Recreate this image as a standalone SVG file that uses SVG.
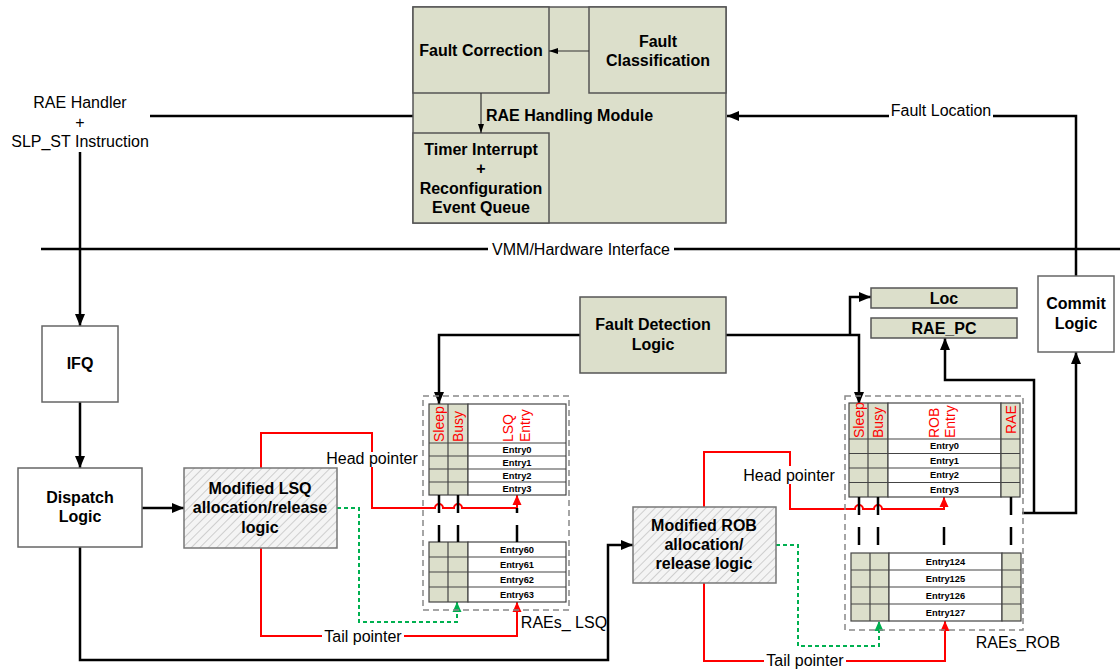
<svg xmlns="http://www.w3.org/2000/svg" width="1120" height="671" viewBox="0 0 1120 671">
<style>
text{font-family:"Liberation Sans",Arial,sans-serif;fill:#000}
.b{font-weight:bold;font-size:16px;text-anchor:middle;dominant-baseline:central}
.r{font-size:16px;text-anchor:middle;dominant-baseline:central}
.e{font-weight:bold;font-size:9.3px;text-anchor:middle;dominant-baseline:central}
.h{font-size:14px;fill:#ff0000;dominant-baseline:central}
.bx{fill:#dcdfcb;stroke:#555;stroke-width:1.5}
.wb{fill:#fff;stroke:#666;stroke-width:1.5}
.hb{fill:url(#hatch);stroke:#777;stroke-width:1.5}
.tb{fill:#fff;stroke:#444;stroke-width:1.2}
.cl{fill:#dcdfcb;stroke:#444;stroke-width:1.2}
.k{fill:none;stroke:#000;stroke-width:2.5}
.kt{fill:none;stroke:#333;stroke-width:1.2}
.rd{fill:none;stroke:#ff0000;stroke-width:2}
.gn{fill:none;stroke:#00b050;stroke-width:2;stroke-dasharray:4,3}
.dash{fill:none;stroke:#888;stroke-width:1.5;stroke-dasharray:6,4}
.mk{stroke:#000;stroke-width:2.5}
</style>
<defs>
<pattern id="hatch" patternUnits="userSpaceOnUse" width="6" height="6" patternTransform="rotate(45)">
<rect width="6" height="6" fill="#f4f4f4"/>
<line x1="0" y1="0" x2="0" y2="6" stroke="#b5b5b5" stroke-width="1.2"/>
</pattern>
<marker id="ak" markerUnits="userSpaceOnUse" markerWidth="14" markerHeight="12" refX="12" refY="6" orient="auto"><path d="M0,1 L12,6 L0,11 Z" fill="#000"/></marker>
<marker id="as" markerUnits="userSpaceOnUse" markerWidth="10" markerHeight="8" refX="9" refY="4" orient="auto"><path d="M0,1 L9,4 L0,7 Z" fill="#000"/></marker>
<marker id="ar" markerUnits="userSpaceOnUse" markerWidth="12" markerHeight="10" refX="10" refY="5" orient="auto"><path d="M0,0.5 L10,5 L0,9.5 Z" fill="#ff0000"/></marker>
<marker id="ag" markerUnits="userSpaceOnUse" markerWidth="12" markerHeight="10" refX="10" refY="5" orient="auto"><path d="M0,0.5 L10,5 L0,9.5 Z" fill="#00b050"/></marker>
</defs>
<rect width="1120" height="671" fill="#fff"/>

<g id="connectors">
<line x1="41" y1="249" x2="1120" y2="249" class="k" stroke-width="2"/>
<line x1="150" y1="116" x2="413" y2="116" class="k"/>
<path d="M80,152 V326" class="k" marker-end="url(#ak)"/>
<path d="M80,402 V468" class="k" marker-end="url(#ak)"/>
<path d="M142,508 H184" class="k" marker-end="url(#ak)"/>
<path d="M80,547 V660 H608 V545 H633" class="k" marker-end="url(#ak)"/>
<path d="M1076,276 V116 H727" class="k" marker-end="url(#ak)"/>
<path d="M580,335 H439 V404" class="k" marker-end="url(#ak)"/>
<path d="M726,335 H859 V404" class="k" marker-end="url(#ak)"/>
<path d="M850,335 V297 H871" class="k" marker-end="url(#ak)"/>
<path d="M1022,513 H1076 V352" class="k" marker-end="url(#ak)"/>
<path d="M1034,513 V380 H945 V338" class="k" marker-end="url(#ak)"/>

<path d="M261,468 V433 H372 V452" class="rd"/>
<path d="M372,467 V508 H435 a4,4 0 0 1 8,0 H454 a4,4 0 0 1 8,0 H517 V495" class="rd" marker-end="url(#ar)"/>
<path d="M261,548 V636 H322" class="rd"/>
<path d="M404,636 H517 V602" class="rd" marker-end="url(#ar)"/>
<path d="M337,508 H359 V622 H457 V602" class="gn" marker-end="url(#ag)"/>

<path d="M704,507 V452 H790 V466" class="rd"/>
<path d="M790,484 V509 H855 a4,4 0 0 1 8,0 H874 a4,4 0 0 1 8,0 H944 V497" class="rd" marker-end="url(#ar)"/>
<path d="M704,583 V661 H764" class="rd"/>
<path d="M846,661 H945 V621" class="rd" marker-end="url(#ar)"/>
<path d="M776,545 H798 V646 H879 V621" class="gn" marker-end="url(#ag)"/>
</g>

<g id="labels">
<rect x="488" y="240" width="186" height="18" fill="#fff"/>
<text class="r" x="581" y="249">VMM/Hardware Interface</text>
<rect x="889" y="102" width="104" height="16" fill="#fff"/>
<text class="r" x="941" y="110">Fault Location</text>
<text class="r" x="80" y="102">RAE Handler</text>
<text class="r" x="80" y="122">+</text>
<text class="r" x="80" y="141">SLP_ST Instruction</text>
<text class="r" x="372" y="458">Head pointer</text>
<text class="r" x="789" y="475">Head pointer</text>
<text class="r" x="363" y="636">Tail pointer</text>
<text class="r" x="805" y="660">Tail pointer</text>
<text class="r" x="564" y="622">RAEs_ LSQ</text>
<text class="r" x="1018" y="642">RAEs_ROB</text>
</g>

<g id="rae-handling-module">
<rect x="413" y="7" width="313" height="216" class="bx"/>
<text class="b" x="486" y="115" text-anchor="start" style="text-anchor:start">RAE Handling Module</text>
</g>
<g id="fault-correction">
<rect x="413" y="7" width="136" height="86" class="bx"/>
<text class="b" x="481" y="50">Fault Correction</text>
</g>
<g id="fault-classification">
<rect x="589" y="7" width="137" height="86" class="bx"/>
<text class="b" x="658" y="41">Fault</text>
<text class="b" x="658" y="60">Classification</text>
</g>
<g id="timer-interrupt">
<rect x="413" y="133" width="136" height="90" class="bx"/>
<text class="b" x="481" y="149">Timer Interrupt</text>
<text class="b" x="481" y="168">+</text>
<text class="b" x="481" y="188">Reconfiguration</text>
<text class="b" x="481" y="207">Event Queue</text>
</g>
<g id="module-connectors">
<path d="M589,51 H549" class="kt" marker-end="url(#as)"/>
<path d="M481,93 V133" class="kt" marker-end="url(#as)"/>
</g>

<g id="ifq">
<rect x="42" y="326" width="76" height="76" class="wb"/>
<text class="b" x="80" y="363">IFQ</text>
</g>
<g id="dispatch-logic">
<rect x="18" y="468" width="124" height="79" class="wb"/>
<text class="b" x="80" y="497">Dispatch</text>
<text class="b" x="80" y="516">Logic</text>
</g>
<g id="lsq-logic">
<rect x="184" y="468" width="153" height="80" class="hb"/>
<text class="b" x="260" y="488">Modified LSQ</text>
<text class="b" x="260" y="507">allocation/release</text>
<text class="b" x="260" y="527">logic</text>
</g>
<g id="rob-logic">
<rect x="633" y="507" width="143" height="76" class="hb"/>
<text class="b" x="704" y="525">Modified ROB</text>
<text class="b" x="704" y="544">allocation/</text>
<text class="b" x="704" y="563">release logic</text>
</g>
<g id="fault-detection">
<rect x="580" y="297" width="146" height="76" class="bx"/>
<text class="b" x="653" y="324">Fault Detection</text>
<text class="b" x="653" y="344">Logic</text>
</g>
<g id="loc">
<rect x="871" y="288" width="146" height="20" class="bx"/>
<text class="b" x="944" y="298">Loc</text>
</g>
<g id="rae-pc">
<rect x="871" y="318" width="146" height="20" class="bx"/>
<text class="b" x="944" y="328">RAE_PC</text>
</g>
<g id="commit-logic">
<rect x="1038" y="276" width="76" height="76" class="wb"/>
<text class="b" x="1076" y="303">Commit</text>
<text class="b" x="1076" y="323">Logic</text>
</g>

<g id="lsq-table">
<rect x="423" y="396" width="146" height="214" class="dash"/>
<rect x="429" y="404" width="39" height="91" class="cl"/>
<rect x="468" y="404" width="98" height="91" class="tb"/>
<line x1="448" y1="404" x2="448" y2="495" stroke="#444" stroke-width="1.2"/>
<path d="M429,443 H566 M429,456 H566 M429,469 H566 M429,482 H566" stroke="#444" stroke-width="1.2"/>
<text class="h" transform="translate(438.5,442) rotate(-90)">Sleep</text>
<text class="h" transform="translate(458,442) rotate(-90)">Busy</text>
<text class="h" transform="translate(508,442) rotate(-90)">LSQ</text>
<text class="h" transform="translate(525,442) rotate(-90)">Entry</text>
<text class="e" x="517" y="449.5">Entry0</text>
<text class="e" x="517" y="462.5">Entry1</text>
<text class="e" x="517" y="475.5">Entry2</text>
<text class="e" x="517" y="488.5">Entry3</text>
<rect x="429" y="542" width="39" height="60" class="cl"/>
<rect x="468" y="542" width="98" height="60" class="tb"/>
<line x1="448" y1="542" x2="448" y2="602" stroke="#444" stroke-width="1.2"/>
<path d="M429,557 H566 M429,572 H566 M429,587 H566" stroke="#444" stroke-width="1.2"/>
<text class="e" x="517" y="549.5">Entry60</text>
<text class="e" x="517" y="564.5">Entry61</text>
<text class="e" x="517" y="579.5">Entry62</text>
<text class="e" x="517" y="594.5">Entry63</text>
<path d="M439,495 V513 M458,495 V513 M517,508 V513 M439,525 V542 M458,525 V542 M517,525 V542" class="mk"/>
</g>

<g id="rob-table">
<rect x="845" y="396" width="178" height="234" class="dash"/>
<rect x="849" y="403" width="39" height="94" class="cl"/>
<rect x="888" y="403" width="113" height="94" class="tb"/>
<rect x="1001" y="403" width="19" height="94" class="cl"/>
<line x1="868" y1="403" x2="868" y2="497" stroke="#444" stroke-width="1.2"/>
<path d="M849,439 H1020 M849,453.5 H1020 M849,468 H1020 M849,482.5 H1020" stroke="#444" stroke-width="1.2"/>
<text class="h" transform="translate(858.5,438) rotate(-90)">Sleep</text>
<text class="h" transform="translate(878,438) rotate(-90)">Busy</text>
<text class="h" transform="translate(934,438) rotate(-90)">ROB</text>
<text class="h" transform="translate(950,438) rotate(-90)">Entry</text>
<text class="h" transform="translate(1011,434) rotate(-90)">RAE</text>
<text class="e" x="944.5" y="446">Entry0</text>
<text class="e" x="944.5" y="461">Entry1</text>
<text class="e" x="944.5" y="475">Entry2</text>
<text class="e" x="944.5" y="490">Entry3</text>
<rect x="851" y="553" width="38" height="68" class="cl"/>
<rect x="889" y="553" width="113" height="68" class="tb"/>
<rect x="1002" y="553" width="19" height="68" class="cl"/>
<line x1="870" y1="553" x2="870" y2="621" stroke="#444" stroke-width="1.2"/>
<path d="M851,570 H1021 M851,587 H1021 M851,604 H1021" stroke="#444" stroke-width="1.2"/>
<text class="e" x="945.5" y="561.5">Entry124</text>
<text class="e" x="945.5" y="578.5">Entry125</text>
<text class="e" x="945.5" y="595.5">Entry126</text>
<text class="e" x="945.5" y="612.5">Entry127</text>
<path d="M859,497 V515 M878,497 V515 M1011,497 V515 M859,527 V545 M878,527 V545 M944,527 V545 M1011,527 V545" class="mk"/>
</g>
</svg>
